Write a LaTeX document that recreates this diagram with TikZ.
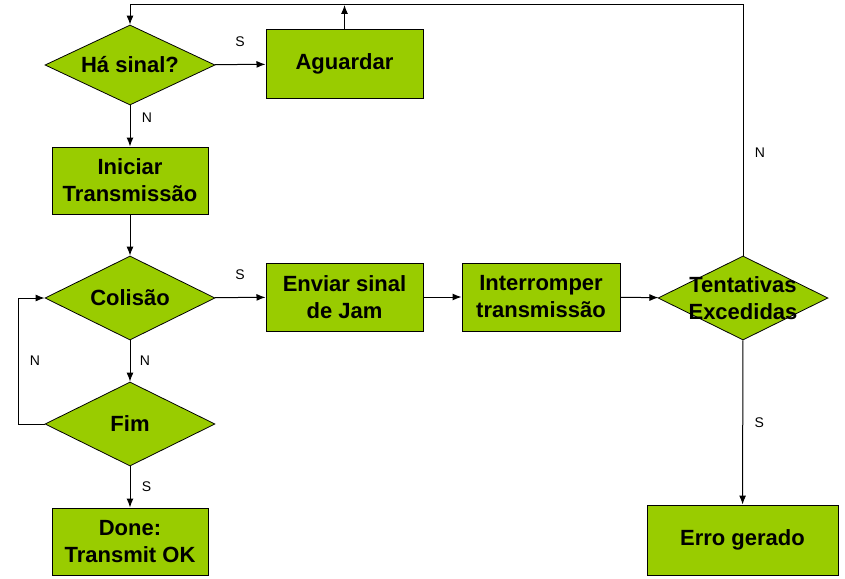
\documentclass[tikz,border=0pt]{standalone}
\usepackage{fontspec}
\setmainfont{Liberation Sans}
\usetikzlibrary{shapes.geometric, arrows.meta}
\definecolor{limegreen}{HTML}{99CC00}
\tikzset{
  block/.style={shape=rectangle, draw=black, fill=limegreen, line width=1pt, align=center,
    font=\bfseries\fontsize{22}{27}\selectfont},
  decision/.style={shape=diamond, draw=black, fill=limegreen, line width=0.8pt, inner sep=0pt,
    aspect=2, minimum width=170, minimum height=84, align=center,
    font=\bfseries\fontsize{22}{27}\selectfont},
  answer/.style={font=\fontsize{14}{16}\selectfont}
}
\begin{document}
\begin{tikzpicture}[x=1pt, y=-1pt, line width=1pt, >={Latex[length=9pt, width=7pt]}]
  \useasboundingbox (0,0) rectangle (845,578);
  \node[decision, minimum height=80] (1) at (130, 65) {Há sinal?};
  \node[block, minimum width=157, minimum height=68] (2) at (344.5, 64) {Aguardar};
  \node[block, minimum width=156, minimum height=67] (3) at (130, 180.5) {Iniciar\\Transmissão};
  \node[decision] (4) at (130, 298) {Colisão};
  \node[block, minimum width=157, minimum height=68] (5) at (344.5, 297) {Enviar sinal\\de Jam};
  \node[block, minimum width=158, minimum height=68] (6) at (541, 297) {Interromper\\transmissão};
  \node[decision, label={[font=\bfseries\fontsize{22}{27}\selectfont, align=center]center:Tentativas\\Excedidas}] (7) at (743, 298) {};
  \node[decision] (8) at (130, 424) {Fim};
  \node[block, minimum width=156, minimum height=67] (9) at (130, 541.5) {Done:\\Transmit OK};
  \node[block, minimum width=191, minimum height=70] (10) at (742.5, 540) {Erro gerado};
  \coordinate (top) at (344.5, 5);
  \coordinate (corner) at (743, 5);
  \coordinate (loop) at (18, 424);
  \draw[->] (1) -- (2) node[midway, above=14pt, answer] {S};
  \draw[->] (1) -- (3) node[pos=0.3, right=8pt, answer] {N};
  \draw[->] (2) -- (top);
  \draw[->] (7) -- (corner) node[pos=0.41, right=8pt, answer] {N} -| (1);
  \draw[->] (3) -- (4);
  \draw[->] (4) -- (5) node[midway, above=14pt, answer] {S};
  \draw[->] (5) -- (6);
  \draw[->] (6) -- (7);
  \draw[->] (7) -- (10) node[midway, right=8pt, answer] {S};
  \draw[->] (4) -- (8) node[midway, right=6pt, answer] {N};
  \draw[->] (8) -- (loop) |- (4) node[pos=0.25, right=8pt, answer] {N};
  \draw[->] (8) -- (9) node[midway, right=8pt, answer] {S};
\end{tikzpicture}
\end{document}
